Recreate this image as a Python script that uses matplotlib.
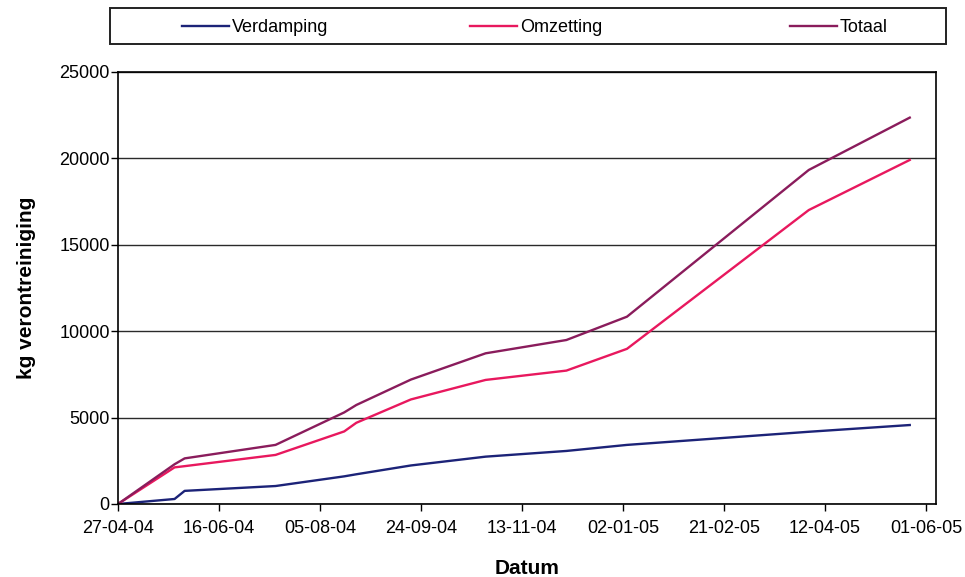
import matplotlib
matplotlib.use("Agg")
import matplotlib.pyplot as plt
import matplotlib.dates as mdates
from matplotlib.patches import Rectangle
import numpy as np

plt.rcParams['font.family'] = ['Liberation Sans', 'DejaVu Sans']

# Measurement dates and cumulative contaminant removal (kg)
dates = np.array(['2004-04-27', '2004-05-25', '2004-05-30', '2004-07-14',
                  '2004-08-17', '2004-08-23', '2004-09-19', '2004-10-26',
                  '2004-12-05', '2005-01-04', '2005-04-04', '2005-05-24'],
                 dtype='datetime64[D]')
verdamping = [0, 290, 760, 1040, 1600, 1720, 2230, 2740, 3070, 3420, 4180, 4570]
omzetting = [0, 2120, 2190, 2840, 4200, 4700, 6050, 7180, 7720, 8980, 17010, 19910]
totaal = [0, 2300, 2640, 3420, 5300, 5730, 7200, 8720, 9490, 10840, 19330, 22360]

series_names = ['Verdamping', 'Omzetting', 'Totaal']
series_colors = ['#1c2378', '#e8185e', '#8a1c5c']

tick_start = np.datetime64('2004-04-27')
tick_step_days = 50
n_ticks = 9
x_end = np.datetime64('2005-06-06')

fig = plt.figure(figsize=(9.65, 5.77), dpi=100)
ax = fig.add_axes([118 / 965, 1 - 504 / 577, (936 - 118) / 965, (504 - 72) / 577])

lines = []
for name, vals, col in zip(series_names, [verdamping, omzetting, totaal], series_colors):
    ln, = ax.plot(dates, vals, color=col, lw=1.7, label=name)
    lines.append(ln)

ax.set_ylim(0, 25000)
ax.set_yticks(range(0, 25001, 5000))
ax.set_xlim(tick_start, x_end)
ticks = [tick_start + np.timedelta64(i * tick_step_days, 'D') for i in range(n_ticks)]
ax.set_xticks(ticks)
ax.xaxis.set_major_formatter(mdates.DateFormatter('%d-%m-%y'))

ax.yaxis.grid(True, color='#2a2a2a', lw=1.0)
ax.set_axisbelow(True)
for sp in ax.spines.values():
    sp.set_color('black')
    sp.set_linewidth(1.2)

ax.tick_params(axis='both', direction='out', length=5, width=1, labelsize=13, colors='black')
ax.tick_params(axis='x', pad=6.5)
ax.tick_params(axis='y', pad=1)

ax.set_ylabel('kg verontreiniging', fontsize=15, fontweight='bold', labelpad=17)
ax.set_xlabel('Datum', fontsize=15, fontweight='bold', labelpad=16)

# Legend frame across the top
fig.add_artist(Rectangle((110 / 965, 1 - 44 / 577), (946 - 110) / 965, 36 / 577,
                         transform=fig.transFigure, fill=False,
                         edgecolor='#222222', lw=1.4))
legend_x = [182, 470, 790]
for ln, lx in zip(lines, legend_x):
    leg = fig.legend([ln], [ln.get_label()], loc='center left',
                     bbox_to_anchor=(lx / 965, 1 - 27.5 / 577),
                     frameon=False, fontsize=13, handlelength=2.6,
                     handletextpad=0.15, borderpad=0, borderaxespad=0)

fig.savefig('out.png', dpi=100)
